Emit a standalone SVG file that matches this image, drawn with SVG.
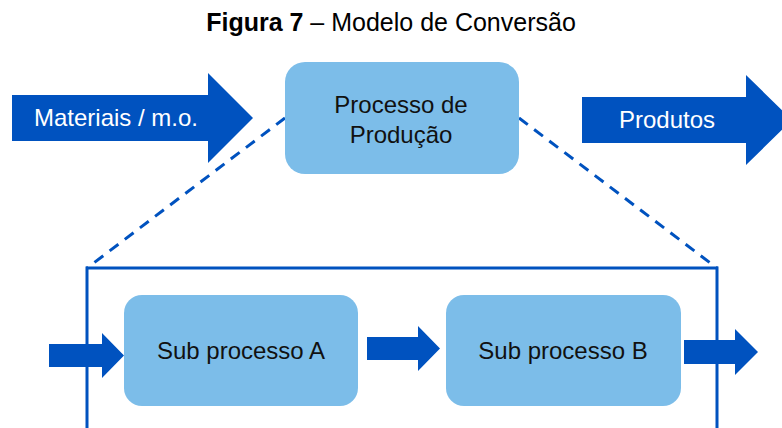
<svg xmlns="http://www.w3.org/2000/svg" width="782" height="428" viewBox="0 0 782 428">
<style>
text{font-family:"Liberation Sans",Arial,sans-serif;}
.arrow{fill:#0052BF;}
.box{fill:#7CBDE9;}
.lbl{font-size:24px;fill:#111;text-anchor:middle;}
.wl{font-size:24px;fill:#fff;text-anchor:middle;}
.dash{stroke:#0052BF;stroke-width:3;stroke-dasharray:11,8;fill:none;}
</style>
<rect width="782" height="428" fill="#fff"/>
<text x="391" y="31" font-size="25" text-anchor="middle" fill="#000"><tspan font-weight="bold">Figura 7</tspan> – Modelo de Conversão</text>
<g id="connectors">
<line class="dash" x1="285" y1="118" x2="87" y2="268"/>
<line class="dash" x1="519" y1="118" x2="717" y2="268"/>
<polyline points="87,430 87,268 717,268 717,430" fill="none" stroke="#0052BF" stroke-width="3"/>
<polygon class="arrow" points="49,344 102,344 102,333 124,355.5 102,378 102,367 49,367"/>
<polygon class="arrow" points="367,337 418,337 418,326 440,348.5 418,371 418,360 367,360"/>
<polygon class="arrow" points="684,340 735,340 735,329 758,352 735,375 735,364 684,364"/>
</g>
<g id="materiais">
<polygon class="arrow" points="12,95 208,95 208,73 253,118 208,163 208,141 12,141"/>
<text class="wl" x="116" y="126">Materiais / m.o.</text>
</g>
<g id="processo">
<rect class="box" x="285" y="62" width="234" height="112" rx="20"/>
<text class="lbl" x="401" y="113">Processo de</text>
<text class="lbl" x="401" y="143">Produção</text>
</g>
<g id="produtos">
<polygon class="arrow" points="582,97 746,97 746,75 792,120 746,165 746,143 582,143"/>
<text class="wl" x="667" y="128">Produtos</text>
</g>
<g id="subA">
<rect class="box" x="124" y="295" width="234" height="111" rx="18"/>
<text class="lbl" x="241" y="359">Sub processo A</text>
</g>
<g id="subB">
<rect class="box" x="446" y="295" width="235" height="111" rx="18"/>
<text class="lbl" x="563" y="359">Sub processo B</text>
</g>
</svg>
